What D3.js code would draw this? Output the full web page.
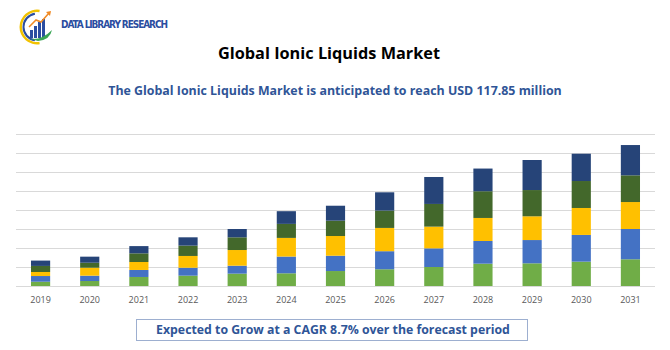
<!DOCTYPE html>
<html>
<head>
<meta charset="utf-8">
<script src="https://cdn.jsdelivr.net/npm/d3@7"></script>
<style>
  body { margin: 0; background: #fff; }
  svg { display: block; }
</style>
</head>
<body>
<div id="chart"></div>
<script>
// data (million USD, roughly)
const years = ["2019","2020","2021","2022","2023","2024","2025","2026","2027","2028","2029","2030","2031"];
const seriesNames = ["s1", "s2", "s3", "s4", "s5"];
const s1 = [3.6, 4.2, 7.6, 8.7, 10.4, 10.7, 12.6, 14.1, 16.0, 18.8, 19.1, 20.5, 22.5];
const s2 = [4.8, 4.5, 5.9, 6.7, 6.7, 14.1, 12.9, 15.2, 15.7, 19.1, 19.6, 22.5, 25.5];
const s3 = [3.4, 6.7, 6.7, 9.9, 13.2, 15.7, 16.6, 19.6, 18.3, 19.4, 20.0, 22.7, 22.7];
const s4 = [5.1, 4.2, 7.3, 8.7, 10.7, 11.8, 12.9, 14.6, 19.1, 22.5, 22.1, 22.7, 22.5];
const s5 = [4.5, 5.1, 6.1, 7.0, 7.0, 10.7, 12.6, 15.4, 22.7, 19.1, 25.3, 23.0, 25.5];
const gridValues = [0, 16, 32, 48, 64, 80, 96, 112, 128];
const colors = ['#70ad47', '#4472c4', '#ffc000', '#43682b', '#264478'];

const width = 670, height = 350;
const svg = d3.select("#chart").append("svg")
    .attr("width", width)
    .attr("height", height);

// logo
let logo = svg.append("g");
logo.append("path")
    .attr("d", d3.arc()({innerRadius: 15, outerRadius: 17.5, startAngle: Math.PI * 0.95, endAngle: Math.PI * 2.05}))
    .attr("transform", "translate(37,27)")
    .attr("fill", "#f2c200");
logo.append("path")
    .attr("d", d3.arc()({innerRadius: 12.5, outerRadius: 14.5, startAngle: Math.PI * 1.05, endAngle: Math.PI * 1.95}))
    .attr("transform", "translate(37,27)")
    .attr("fill", "#2b4da0");
[[30, 30, 8], [34, 26, 12], [38, 22, 16], [42, 19, 19]].forEach(b => {
    logo.append("rect").attr("x", b[0]).attr("y", b[1]).attr("width", 3).attr("height", b[2]).attr("fill", "#2b4da0");
});
logo.append("path")
    .attr("d", "M27,38 Q40,42 52,30 Q50,40 38,41 Z")
    .attr("fill", "#3aa655");
logo.append("path")
    .attr("d", "M29,27 L36,20 L41,22 L49,13")
    .attr("fill", "none")
    .attr("stroke", "#f08a24")
    .attr("stroke-width", 1.5);
logo.append("path")
    .attr("d", "M46,12 L51,11 L50,16 Z")
    .attr("fill", "#f08a24");
logo.append("text")
    .attr("x", 61).attr("y", 28)
    .attr("font-family", "'DejaVu Sans Condensed', 'DejaVu Sans', sans-serif")
    .attr("font-weight", "bold")
    .attr("font-size", 10)
    .attr("fill", "#2b4da0")
    .attr("textLength", 107)
    .text("DATA LIBRARY RESEARCH");

// titles
svg.append("text")
    .attr("x", 329).attr("y", 59)
    .attr("text-anchor", "middle")
    .attr("font-family", "'Open Sans', sans-serif")
    .attr("font-weight", "bold")
    .attr("font-size", 16.3)
    .attr("fill", "#000")
    .text("Global Ionic Liquids Market");

svg.append("text")
    .attr("x", 335).attr("y", 95)
    .attr("text-anchor", "middle")
    .attr("font-family", "'Open Sans', sans-serif")
    .attr("font-weight", "bold")
    .attr("font-size", 12.4)
    .attr("fill", "#2f5597")
    .text("The Global Ionic Liquids Market is anticipated to reach USD 117.85 million");

// scales
const x = d3.scaleBand()
    .domain(years)
    .range([16, 655])
    .paddingInner(0.61)
    .paddingOuter(0.305);

const y = d3.scaleLinear()
    .domain([0, 128])
    .range([286, 134]);

// gridlines
svg.append("g")
    .selectAll("line")
    .data(gridValues)
    .enter().append("line")
    .attr("x1", 16).attr("x2", 655)
    .attr("y1", d => Math.round(y(d)) + 0.5)
    .attr("y2", d => Math.round(y(d)) + 0.5)
    .attr("stroke", "#d9d9d9")
    .attr("stroke-width", 1);

// stack
const table = years.map((yr, i) => ({year: yr, s1: s1[i], s2: s2[i], s3: s3[i], s4: s4[i], s5: s5[i]}));
const stacked = d3.stack().keys(seriesNames)(table);

svg.append("g")
    .selectAll("g")
    .data(stacked)
    .enter().append("g")
    .attr("fill", (d, i) => colors[i])
    .selectAll("rect")
    .data(d => d)
    .enter().append("rect")
    .attr("x", d => x(d.data.year))
    .attr("width", x.bandwidth())
    .attr("y", d => y(d[1]))
    .attr("height", d => y(d[0]) - y(d[1]));

// x axis labels
const xAxis = svg.append("g")
    .attr("transform", "translate(0,286)")
    .call(d3.axisBottom(x).tickSize(0).tickPadding(11));
xAxis.select(".domain").remove();
xAxis.selectAll("text")
    .attr("font-family", "'Open Sans', sans-serif")
    .attr("font-size", 9)
    .attr("fill", "#595959");

// CAGR box
svg.append("rect")
    .attr("x", 136.5).attr("y", 319.5)
    .attr("width", 391).attr("height", 21)
    .attr("fill", "#fff")
    .attr("stroke", "#9dafd0")
    .attr("stroke-width", 1);

svg.append("text")
    .attr("x", 333).attr("y", 334)
    .attr("text-anchor", "middle")
    .attr("font-family", "'Open Sans', sans-serif")
    .attr("font-weight", "bold")
    .attr("font-size", 12.3)
    .attr("fill", "#2f5597")
    .text("Expected to Grow at a CAGR 8.7% over the forecast period");
</script>
</body>
</html>
